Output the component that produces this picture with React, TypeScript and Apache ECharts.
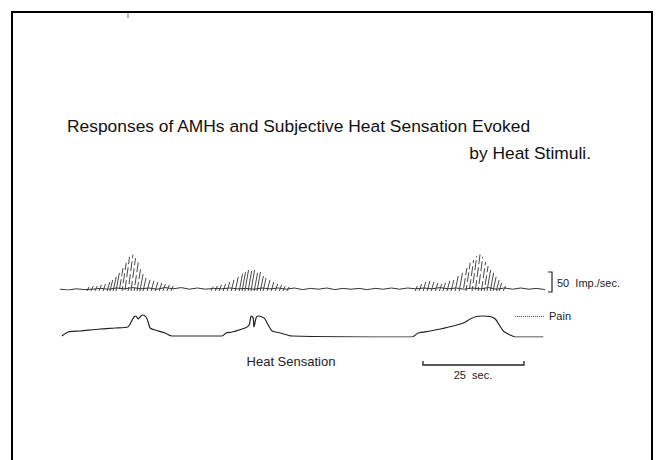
import React, { useEffect, useRef } from "react";
import * as echarts from "echarts";

// Nerve impulse frequency (imp./sec) of AMH discharges, each stroke one reading
const spikeTimes = [
  6.9, 7.9, 8.9, 9.9, 10.9, 11.9, 12.6, 13.4, 14.1, 14.9, 15.6, 16.3, 17.1, 17.8, 18.6, 19.3, 20.0, 20.8, 21.8, 22.8, 23.8, 24.8, 25.7, 26.7, 27.7,
  37.6, 38.6, 39.6, 40.6, 41.6, 42.6, 43.6, 44.6, 45.3, 46.0, 46.8, 47.5, 48.3, 49.0, 49.8, 50.5, 51.5, 52.5, 53.5, 54.5, 55.4, 56.4,
  88.1, 89.1, 90.1, 91.1, 92.1, 93.1, 94.1, 95.0, 96.0, 97.0, 98.0, 99.0, 100.0, 100.7, 101.5, 102.2, 103.0, 103.7, 104.5, 105.2, 105.9, 106.7, 107.4, 108.2, 108.9, 109.9,
];
const spikeRates = [
  8, 10, 10, 13, 15, 20, 25, 33, 43, 55, 68, 83, 88, 80, 75, 55, 40, 30, 25, 23, 20, 18, 15, 13, 10,
  8, 10, 13, 15, 20, 25, 33, 40, 45, 50, 48, 50, 43, 45, 35, 30, 25, 20, 15, 13, 10, 8,
  10, 15, 20, 23, 20, 18, 15, 18, 23, 25, 35, 43, 55, 68, 75, 85, 93, 83, 70, 60, 50, 43, 33, 25, 18, 10,
];

// Background wiggle of the rate trace, sampled every 2 sec from 0 to 120 sec
const baselineStep = 2;
const baselineRates = [
  2, 0, 3, 1, 2, 4, 2, 5, 3, 6, 3, 5, 2, 6, 3, 6, 2, 5, 2, 4, 3, 5, 3, 4, 2, 5, 3, 5, 2, 5,
  1, 4, 2, 5, 1, 4, 2, 4, 1, 4, 2, 5, 2, 5, 3, 5, 3, 6, 3, 5, 2, 5, 3, 6, 2, 5, 2, 5, 2, 4, 1,
];

// Subjective heat sensation (arbitrary units; Pain level = 21)
const heatTimes = [
  0.5, 2.0, 5.0, 9.9, 13.6, 16.8, 17.6, 18.3, 18.8, 19.3, 20.0, 20.5, 21.3, 21.8, 22.3, 23.5, 26.0, 27.7,
  40.1, 41.1, 42.6, 45.8, 46.8, 47.3, 47.8, 48.0, 48.5, 49.0, 50.0, 50.7, 51.5, 52.5, 54.5, 57.4,
  87.1, 88.6, 91.6, 94.1, 97.3, 99.8, 101.5, 103.0, 104.5, 106.4, 107.7, 108.7, 109.7, 111.4, 112.6, 119.6,
];
const heatValues = [
  1, 5, 6, 8, 9, 10, 15, 20, 21, 18, 21, 22, 20, 15, 9, 7, 4, 1,
  1, 4, 5, 9, 12, 21, 19, 10, 19, 21, 20, 18, 12, 6, 4, 1,
  0, 4, 6, 8, 11, 14, 18, 20.5, 21, 20.5, 18, 12, 6, 2, 0, 0,
];
const painLevel = 21;
const painStart = 112.6;
const timeMax = 120;

const titleLine1 = "Responses of AMHs and Subjective Heat Sensation Evoked";
const titleLine2 = "by Heat Stimuli.";
const rateScaleLabel = "50  Imp./sec.";
const timeScaleLabel = "25  sec.";
const heatLabel = "Heat Sensation";
const painLabel = "Pain";

const FONT = "'Liberation Sans', Arial, Helvetica, sans-serif";

export default function App() {
  const ref = useRef<HTMLDivElement>(null);
  useEffect(() => {
    if (!ref.current) return;
    const chart = echarts.init(ref.current, undefined, { renderer: "svg" });
    const spikeData = spikeTimes.map((t, i) => [t, spikeRates[i]]);
    const baselineData = baselineRates.map((v, i) => [i * baselineStep, v]);
    const heatData = heatTimes.map((t, i) => [t, heatValues[i]]);
    chart.setOption({
      animation: false,
      backgroundColor: "#ffffff",
      grid: [
        { left: 60, width: 485, bottom: 170, height: 50 },
        { left: 60, width: 485, bottom: 123, height: 40 },
      ],
      xAxis: [
        { type: "value", gridIndex: 0, min: 0, max: timeMax, show: false },
        { type: "value", gridIndex: 1, min: 0, max: timeMax, show: false },
      ],
      yAxis: [
        { type: "value", gridIndex: 0, min: 0, max: 125, show: false },
        { type: "value", gridIndex: 1, min: 0, max: 40, show: false },
      ],
      series: [
        {
          type: "line",
          xAxisIndex: 0,
          yAxisIndex: 0,
          data: baselineData,
          showSymbol: false,
          silent: true,
          lineStyle: { color: "#333", width: 1 },
        },
        {
          type: "custom",
          xAxisIndex: 0,
          yAxisIndex: 0,
          data: spikeData,
          encode: { x: 0, y: 1 },
          silent: true,
          renderItem: (params: any, api: any) => {
            const t = api.value(0);
            const r = api.value(1);
            const p0 = api.coord([t, 0]);
            const p1 = api.coord([t, r]);
            const h = p0[1] - p1[1];
            const slant = 2 + h * 0.08;
            return {
              type: "line",
              shape: { x1: p0[0] - 1, y1: p0[1] + 1, x2: p0[0] - 1 + slant, y2: p1[1] },
              style: {
                stroke: "#333",
                lineWidth: 0.9,
                lineDash: h > 20 ? [10, 3] : null,
                lineDashOffset: (params.dataIndex * 7) % 13,
              },
            };
          },
        },
        {
          type: "line",
          xAxisIndex: 1,
          yAxisIndex: 1,
          data: heatData,
          showSymbol: false,
          silent: true,
          smooth: 0.25,
          lineStyle: { color: "#222", width: 1.2 },
          markLine: {
            silent: true,
            symbol: "none",
            lineStyle: { type: "dotted", color: "#444", width: 1 },
            label: {
              show: true,
              position: "end",
              distance: 4,
              formatter: painLabel,
              color: "#222",
              fontSize: 11,
              fontFamily: FONT,
            },
            data: [[{ coord: [painStart, painLevel] }, { coord: [timeMax, painLevel] }]],
          },
        },
      ],
      graphic: [
        {
          type: "rect",
          shape: { x: 12, y: 12, width: 640, height: 470 },
          style: { fill: "none", stroke: "#000", lineWidth: 2 },
          silent: true,
        },
        {
          type: "line",
          shape: { x1: 128, y1: 13, x2: 128, y2: 18 },
          style: { stroke: "#777", lineWidth: 1 },
          silent: true,
        },
        {
          type: "text",
          x: 67,
          y: 126,
          style: { text: titleLine1, fontSize: 17.4, fontFamily: FONT, fill: "#111", textVerticalAlign: "middle" },
        },
        {
          type: "text",
          x: 591,
          y: 153,
          style: { text: titleLine2, fontSize: 17.4, fontFamily: FONT, fill: "#111", textAlign: "right", textVerticalAlign: "middle" },
        },
        {
          type: "polyline",
          shape: { points: [[548, 272], [552, 272], [552, 292], [548, 292]] },
          style: { stroke: "#222", lineWidth: 1.2, fill: "none" },
        },
        {
          type: "text",
          x: 557,
          y: 283,
          style: { text: rateScaleLabel, fontSize: 11, fontFamily: FONT, fill: "#222", textVerticalAlign: "middle" },
        },
        {
          type: "polyline",
          shape: { points: [[423, 361], [423, 365], [524, 365], [524, 361]] },
          style: { stroke: "#222", lineWidth: 1.3, fill: "none" },
        },
        {
          type: "text",
          x: 473,
          y: 375,
          style: { text: timeScaleLabel, fontSize: 11, fontFamily: FONT, fill: "#222", textAlign: "center", textVerticalAlign: "middle" },
        },
        {
          type: "text",
          x: 291,
          y: 361,
          style: { text: heatLabel, fontSize: 13, fontFamily: FONT, fill: "#222", textAlign: "center", textVerticalAlign: "middle" },
        },
      ],
    });
    return () => chart.dispose();
  }, []);
  return <div ref={ref} style={{ width: 658, height: 460, position: "absolute", left: 0, top: 0 }} />;
}
